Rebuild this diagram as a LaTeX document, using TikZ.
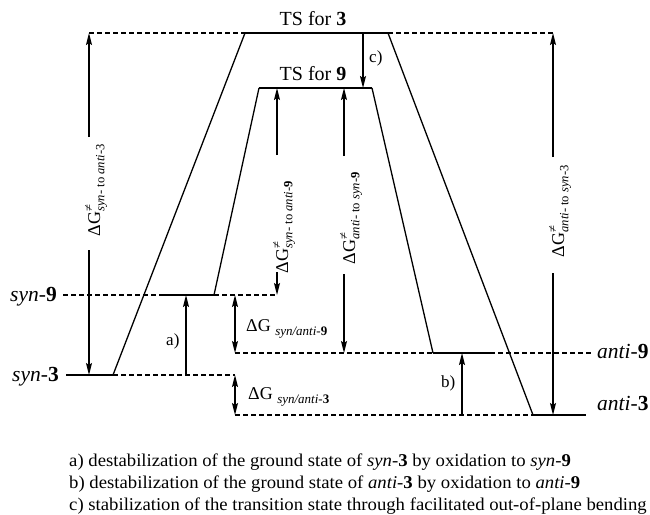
\documentclass[tikz,border=0pt]{standalone}
\usepackage{amsmath}
\usepackage{fontspec}
\setmainfont{Liberation Serif}
\newfontfamily\legendfont[FakeStretch=1.04]{Liberation Serif}
\usetikzlibrary{arrows.meta,positioning}

\begin{document}
\begin{tikzpicture}[x=1pt,y=-1pt,
  level/.style={line width=2pt},
  guide/.style={line width=1.1pt,dash pattern=on 4.5pt off 3.5pt},
  slant/.style={line width=1.3pt},
  gap/.style={line width=1.4pt,-{Stealth[length=12pt,width=6pt,inset=2pt]}},
  dgap/.style={line width=1.4pt,{Stealth[length=12pt,width=6pt,inset=2pt]}-{Stealth[length=12pt,width=6pt,inset=2pt]}},
  lvl/.style={font=\fontsize{21.5}{24}\selectfont,inner sep=0pt},
  tslab/.style={font=\fontsize{20}{24}\selectfont,inner sep=0pt,anchor=base},
  barrier/.style={font=\fontsize{18}{20}\selectfont,rotate=90,inner sep=0pt,anchor=base},
  dglab/.style={font=\fontsize{18}{20}\selectfont,inner sep=0pt,anchor=base west},
  tag/.style={font=\fontsize{17}{20}\selectfont,inner sep=0pt,anchor=base west},
  legend/.style={font=\legendfont\fontsize{18}{22}\selectfont,inner sep=0pt,anchor=base west}]
\useasboundingbox (0,0) rectangle (650,514);
% --- level ends ---
\coordinate (ts3a) at (245,33);  \coordinate (ts3b) at (388,33);
\coordinate (ts9a) at (259,88);  \coordinate (ts9b) at (372,88);
\coordinate (s9a) at (162,295);  \coordinate (s9b) at (214,295);
\coordinate (s3a) at (66,375);   \coordinate (s3b) at (113,375);
\coordinate (a9a) at (433,353);  \coordinate (a9b) at (490,353);
\coordinate (a3a) at (533,415);  \coordinate (a3b) at (586,415);
% --- dashed guide ends ---
\coordinate (ts3L) at (89,33);   \coordinate (ts3R) at (553,33);
\coordinate (s9L) at (63,295);   \coordinate (s9R) at (277,295);
\coordinate (s3R) at (235,375);  \coordinate (s3m) at (89,375);
\coordinate (a9L) at (235,353);  \coordinate (a9R) at (592,353);
\coordinate (a3L) at (235,415);  \coordinate (a3m) at (553,415);
% --- levels and paths ---
\draw[level] (ts3a) -- (ts3b);
\draw[level] (ts9a) -- (ts9b);
\draw[level] (s9a) -- (s9b);
\draw[level] (s3a) -- (s3b);
\draw[level] (a9a) -- (a9b);
\draw[level] (a3a) -- (a3b);
\draw[slant] (s3b) -- (ts3a);
\draw[slant] (ts3b) -- (a3a);
\draw[slant] (s9b) -- (ts9a);
\draw[slant] (ts9b) -- (a9a);
\draw[guide] (ts3L) -- (ts3a);
\draw[guide] (ts3b) -- (ts3R);
\draw[guide] (s9L) -- (s9a);
\draw[guide] (s9b) -- (s9R);
\draw[guide] (s3b) -- (s3R);
\draw[guide] (a9L) -- (a9a);
\draw[guide] (a9b) -- (a9R);
\draw[guide] (a3L) -- (a3a);
% --- level labels ---
\node[tslab] (ts3) at (313,25) {TS for \textbf{3}};
\node[tslab] (ts9) at (313,80) {TS for \textbf{9}};
\node[lvl,anchor=base east] (syn9) at (57,301) {\textit{syn}-\textbf{9}};
\node[lvl,anchor=base east] (syn3) at (59,381) {\textit{syn}-\textbf{3}};
\node[lvl,anchor=base west] (anti9) at (597,358) {\textit{anti}-\textbf{9}};
\node[lvl,anchor=base west] (anti3) at (597,410) {\textit{anti}-\textbf{3}};
% --- barriers ---
\node[barrier] (dgL) at (100,190) {$\text{ΔG}^{\text{≠}}_{\text{\textit{syn}- to \textit{anti}-3}}$};
\node[barrier] (dgR) at (564,211) {$\text{ΔG}^{\text{≠}}_{\text{\textit{anti}- to \textit{syn}-3}}$};
\node[barrier] (dgS) at (288,227) {$\text{ΔG}^{\text{≠}}_{\text{\textit{syn}- to \textit{anti}-\textbf{9}}}$};
\node[barrier] (dgA) at (355,218) {$\text{ΔG}^{\text{≠}}_{\text{\textit{anti}- to \textit{syn}-\textbf{9}}}$};
\coordinate (gL1) at (89,137);  \coordinate (gL2) at (89,250);
\coordinate (gR1) at (553,157); \coordinate (gR2) at (553,273);
\coordinate (gS1) at (277,155); \coordinate (gS2) at (277,272);
\coordinate (gA1) at (344,156); \coordinate (gA2) at (344,274);
\coordinate (ts9s) at (277,88); \coordinate (ts9m) at (344,88);
\coordinate (a9m) at (344,353);
\draw[gap] (gL1) -- (ts3L);
\draw[gap] (gL2) -- (s3m);
\draw[gap] (gR1) -- (ts3R);
\draw[gap] (gR2) -- (a3m);
\draw[gap] (gS1) -- (ts9s);
\draw[gap] (gS2) -- (s9R);
\draw[gap] (gA1) -- (ts9m);
\draw[gap] (gA2) -- (a9m);
% --- effects a) b) c) ---
\coordinate (c1) at (363,33);  \coordinate (c2) at (363,88);
\coordinate (aa1) at (186,375); \coordinate (aa2) at (186,295);
\coordinate (b1) at (462,415);  \coordinate (b2) at (462,353);
\draw[gap] (c1) -- (c2);
\draw[gap] (aa1) -- (aa2);
\draw[gap] (b1) -- (b2);
\node[tag] (tc) at (369,62) {c)};
\node[tag] (ta) at (166,345) {a)};
\node[tag] (tb) at (441,387) {b)};
% --- ground state gaps ---
\coordinate (d9a) at (235,295); \coordinate (d3a) at (235,375);
\draw[dgap] (d9a) -- (a9L);
\draw[dgap] (d3a) -- (a3L);
\node[dglab] (dg9) at (246,331) {ΔG \raisebox{-4pt}{\fontsize{13}{15}\selectfont\textit{syn/anti}-\textbf{9}}};
\node[dglab] (dg3) at (248,399) {ΔG \raisebox{-4pt}{\fontsize{13}{15}\selectfont\textit{syn/anti}-\textbf{3}}};
% --- legend ---
\node[legend] (leg1) at (69,466) {a) destabilization of the ground state of \textit{syn}-\textbf{3} by oxidation to \textit{syn}-\textbf{9}};
\node[legend] (leg2) at (69,488) {b) destabilization of the ground state of \textit{anti}-\textbf{3} by oxidation to \textit{anti}-\textbf{9}};
\node[legend] (leg3) at (69,510) {c) stabilization of the transition state through facilitated out-of-plane bending};
\end{tikzpicture}
\end{document}
